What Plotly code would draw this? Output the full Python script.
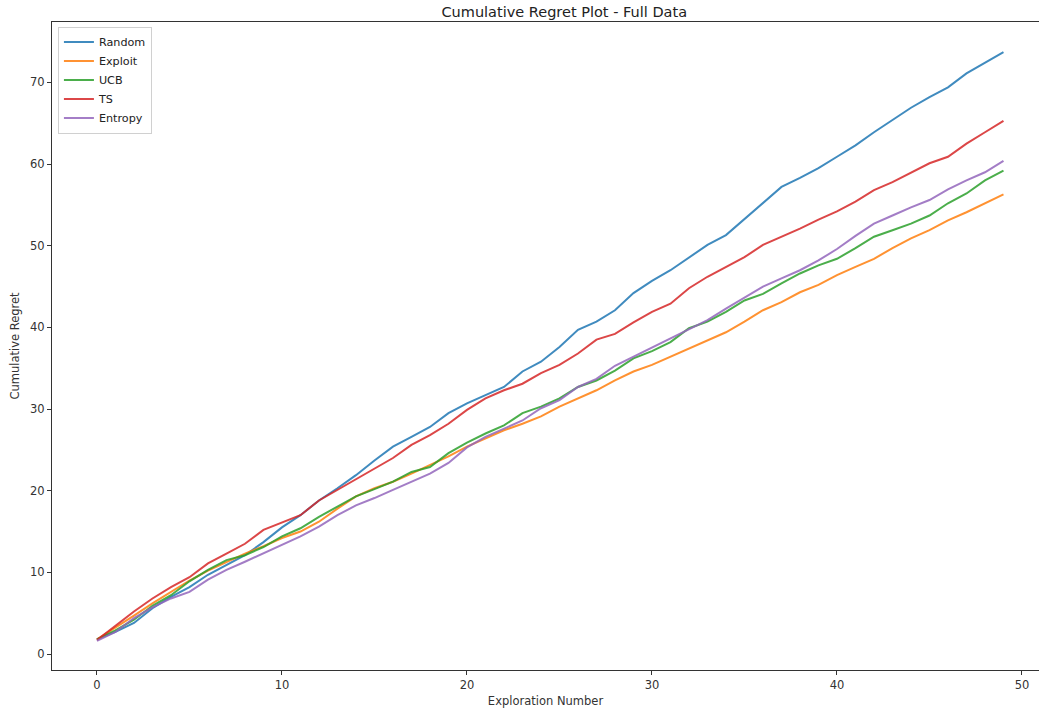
import plotly.graph_objects as go

exploration = list(range(50))

random_regret = [1.8, 2.7, 3.8, 5.6, 7.0, 8.2, 9.7, 10.9, 12.1, 13.7,
                 15.5, 17.0, 18.8, 20.3, 21.9, 23.7, 25.4, 26.6, 27.8, 29.5,
                 30.7, 31.7, 32.7, 34.6, 35.8, 37.6, 39.7, 40.7, 42.1, 44.2,
                 45.7, 47.0, 48.6, 50.1, 51.3, 53.3, 55.2, 57.2, 58.3, 59.5,
                 60.9, 62.3, 63.9, 65.4, 66.9, 68.2, 69.4, 71.1, 72.4, 73.7]
exploit_regret = [1.8, 3.2, 4.7, 6.2, 7.6, 9.0, 10.2, 11.3, 12.3, 13.2,
                  14.2, 15.0, 16.2, 17.8, 19.3, 20.3, 21.1, 22.1, 23.1, 24.2,
                  25.4, 26.4, 27.4, 28.2, 29.1, 30.3, 31.3, 32.3, 33.5, 34.6,
                  35.4, 36.4, 37.4, 38.4, 39.4, 40.7, 42.1, 43.1, 44.3, 45.2,
                  46.4, 47.4, 48.4, 49.7, 50.9, 51.9, 53.1, 54.1, 55.2, 56.3]
ucb_regret = [1.8, 2.9, 4.2, 5.9, 7.2, 8.9, 10.3, 11.5, 12.1, 13.1,
              14.4, 15.4, 16.8, 18.0, 19.3, 20.2, 21.1, 22.3, 22.9, 24.6,
              25.9, 27.0, 28.0, 29.5, 30.3, 31.3, 32.7, 33.5, 34.7, 36.2,
              37.1, 38.2, 39.9, 40.7, 41.9, 43.3, 44.1, 45.4, 46.6, 47.6,
              48.4, 49.7, 51.1, 51.9, 52.7, 53.7, 55.2, 56.4, 58.0, 59.2]
ts_regret = [1.7, 3.5, 5.2, 6.8, 8.2, 9.4, 11.1, 12.3, 13.5, 15.2,
             16.1, 17.0, 18.8, 20.1, 21.3, 22.7, 24.0, 25.6, 26.8, 28.2,
             29.9, 31.3, 32.3, 33.1, 34.4, 35.4, 36.8, 38.5, 39.2, 40.6,
             41.9, 42.9, 44.8, 46.2, 47.4, 48.6, 50.1, 51.1, 52.1, 53.2,
             54.2, 55.4, 56.8, 57.8, 59.0, 60.1, 60.9, 62.5, 63.9, 65.3]
entropy_regret = [1.6, 2.7, 4.4, 5.7, 6.8, 7.6, 9.1, 10.3, 11.3, 12.3,
                  13.4, 14.4, 15.6, 17.0, 18.2, 19.1, 20.1, 21.1, 22.1, 23.4,
                  25.3, 26.6, 27.6, 28.6, 30.1, 31.1, 32.7, 33.7, 35.3, 36.4,
                  37.5, 38.6, 39.7, 40.9, 42.3, 43.7, 45.0, 46.0, 47.0, 48.2,
                  49.6, 51.2, 52.7, 53.7, 54.7, 55.6, 56.9, 58.0, 59.0, 60.4]

series_names = ["Random", "Exploit", "UCB", "TS", "Entropy"]
series_values = [random_regret, exploit_regret, ucb_regret, ts_regret, entropy_regret]
colors = ["#1f77b4", "#ff7f0e", "#2ca02c", "#d62728", "#9467bd"]

x_ticks = [0, 10, 20, 30, 40, 50]
y_ticks = [0, 10, 20, 30, 40, 50, 60, 70]

fig = go.Figure()
for name, vals, col in zip(series_names, series_values, colors):
    fig.add_trace(go.Scatter(x=exploration, y=vals, mode="lines", name=name,
                             line=dict(color=col, width=2), opacity=0.85))

font_family = "DejaVu Sans"
axis_color = "#333333"

W, H = 1039, 710
fig.update_layout(
    width=W, height=H,
    margin=dict(l=52, r=0, t=22, b=40),
    paper_bgcolor="white", plot_bgcolor="white",
    font=dict(family=font_family, size=11, color=axis_color),
    title=dict(text="Cumulative Regret Plot - Full Data", x=0.519, xref="paper",
               xanchor="center", y=1 - 12/H, yanchor="middle",
               font=dict(size=14.5, color="#222222")),
    legend=dict(x=0.006, y=0.993, xanchor="left", yanchor="top",
                bgcolor="rgba(255,255,255,0.8)", bordercolor="#d0d0d0", borderwidth=1,
                font=dict(size=11.2, color="#222222"), itemwidth=30),
    showlegend=True,
)
fig.update_xaxes(range=[-2.43, 50.92], tickvals=x_ticks, ticks="outside", ticklen=4,
                 tickcolor=axis_color, showline=True, linecolor=axis_color, linewidth=1,
                 mirror=True, showgrid=False, zeroline=False,
                 title=dict(text="Exploration Number", standoff=6, font=dict(size=11.5)),
                 tickfont=dict(size=11.5))
fig.update_yaxes(range=[-1.96, 77.4], tickvals=y_ticks, ticks="outside", ticklen=4,
                 tickcolor=axis_color, showline=True, linecolor=axis_color, linewidth=1,
                 mirror=False, showgrid=False, zeroline=False,
                 title=dict(text="Cumulative Regret", standoff=8, font=dict(size=11.5)),
                 tickfont=dict(size=11.5))

# remove the default page margin so the figure sits at the top-left corner
fig.write_html("out.html", config={"displayModeBar": False},
               post_script="document.body.style.margin='0';document.body.style.overflow='hidden';")
